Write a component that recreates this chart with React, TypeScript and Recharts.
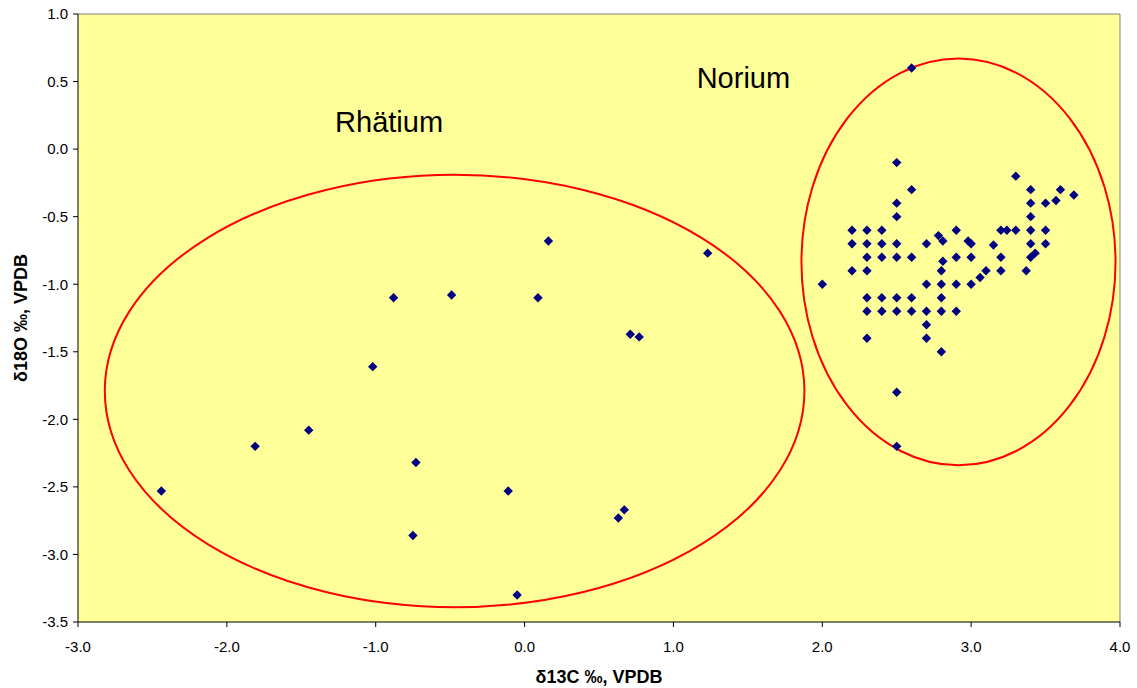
import React from "react";
import {
  ScatterChart,
  Scatter,
  XAxis,
  YAxis,
  CartesianGrid,
  ReferenceArea,
  ReferenceDot,
  ReferenceLine,
  Label,
} from "recharts";

// Rhätium samples (δ13C, δ18O)
const rhaetC = [
  -2.44, -1.81, -1.45, -1.02, -0.88, -0.73, -0.75, -0.49, -0.11, -0.05, 0.09,
  0.16, 0.63, 0.67, 0.71, 0.77, 1.23,
];
const rhaetO = [
  -2.53, -2.2, -2.08, -1.61, -1.1, -2.32, -2.86, -1.08, -2.53, -3.3, -1.1,
  -0.68, -2.73, -2.67, -1.37, -1.39, -0.77,
];

// Norium samples (δ13C, δ18O)
const norC = [
  2.6, 2.5, 3.3, 2.6, 3.4, 3.6, 3.69, 3.57, 2.5, 3.4, 3.5, 2.5, 3.4,
  2.2, 2.3, 2.4, 2.9, 3.2, 3.24, 3.3, 3.4, 3.5,
  2.78, 2.81, 2.98, 3.0,
  2.2, 2.3, 2.4, 2.5, 2.7, 3.4, 3.5, 3.15,
  2.3, 2.4, 2.5, 2.6, 2.9, 3.0, 3.2, 3.4, 3.43, 2.81,
  2.2, 2.3, 2.8, 3.1, 3.2, 3.37, 3.06,
  2.0, 2.7, 2.8, 2.9, 3.0,
  2.3, 2.4, 2.5, 2.6, 2.8,
  2.3, 2.4, 2.5, 2.6, 2.7, 2.8, 2.9,
  2.7, 2.3, 2.7, 2.8, 2.5, 2.5,
];
const norO = [
  0.6, -0.1, -0.2, -0.3, -0.3, -0.3, -0.34, -0.38, -0.4, -0.4, -0.4, -0.5, -0.5,
  -0.6, -0.6, -0.6, -0.6, -0.6, -0.6, -0.6, -0.6, -0.6,
  -0.64, -0.68, -0.68, -0.7,
  -0.7, -0.7, -0.7, -0.7, -0.7, -0.7, -0.7, -0.71,
  -0.8, -0.8, -0.8, -0.8, -0.8, -0.8, -0.8, -0.8, -0.77, -0.83,
  -0.9, -0.9, -0.9, -0.9, -0.9, -0.9, -0.95,
  -1.0, -1.0, -1.0, -1.0, -1.0,
  -1.1, -1.1, -1.1, -1.1, -1.1,
  -1.2, -1.2, -1.2, -1.2, -1.2, -1.2, -1.2,
  -1.3, -1.4, -1.4, -1.5, -1.8, -2.2,
];

const xTicks = [-3, -2, -1, 0, 1, 2, 3, 4];
const yTicks = [1, 0.5, 0, -0.5, -1, -1.5, -2, -2.5, -3, -3.5];

// group outlines as bounding boxes [x1, x2, y1, y2]
const rhaetBox = [-2.82, 1.88, -0.19, -3.39];
const norBox = [1.86, 3.97, 0.67, -2.34];

const rhaetData = rhaetC.map((x, i) => ({ x, y: rhaetO[i] }));
const norData = norC.map((x, i) => ({ x, y: norO[i] }));
const allData = [...rhaetData, ...norData];

const font = "'Liberation Sans', Arial, sans-serif";

const Diamond = (props: any) => {
  const { cx, cy } = props;
  const h = 4.7;
  return (
    <polygon
      points={`${cx},${cy - h} ${cx + h},${cy} ${cx},${cy + h} ${cx - h},${cy}`}
      fill="#000080"
    />
  );
};

const Ellipse = (props: any) => {
  const { x, y, width, height } = props;
  const w = Math.abs(width);
  const ht = Math.abs(height);
  const left = width < 0 ? x + width : x;
  const top = height < 0 ? y + height : y;
  return (
    <ellipse
      cx={left + w / 2}
      cy={top + ht / 2}
      rx={w / 2}
      ry={ht / 2}
      fill="none"
      stroke="#FF0000"
      strokeWidth={2}
    />
  );
};

const groupLabel = (text: string) => (props: any) => (
  <text
    x={props.cx}
    y={props.cy}
    textAnchor="middle"
    fontSize={29}
    fontFamily={font}
    fill="#000"
  >
    {text}
  </text>
);

const App = () => {
  return (
    <div style={{ position: "absolute", left: 0, top: 0 }}>
      <ScatterChart
        width={1137}
        height={688}
        margin={{ top: 14, right: 17, left: 8, bottom: 25 }}
        style={{ fontFamily: font }}
      >
        <CartesianGrid
          horizontal={false}
          vertical={false}
          fill="#FFFF99"
          stroke="none"
        />
        <XAxis
          type="number"
          dataKey="x"
          domain={[-3, 4]}
          ticks={xTicks}
          tickFormatter={(v) => v.toFixed(1)}
          tickSize={5}
          tickMargin={14}
          height={41}
          stroke="#000"
          tick={{ fill: "#000", fontSize: 15 }}
          allowDataOverflow
        >
          <Label
            content={(p: any) => (
              <text
                x={p.viewBox.x + p.viewBox.width / 2}
                y={p.viewBox.y + 61}
                textAnchor="middle"
                fontSize={18}
                fontWeight="bold"
                fontFamily={font}
                fill="#000"
              >
                δ13C ‰, VPDB
              </text>
            )}
          />
        </XAxis>
        <YAxis
          type="number"
          dataKey="y"
          domain={[-3.5, 1]}
          ticks={yTicks}
          tickFormatter={(v) => v.toFixed(1)}
          tickSize={5}
          tickMargin={5}
          width={70}
          stroke="#000"
          tick={{ fill: "#000", fontSize: 15 }}
          allowDataOverflow
        >
          <Label
            content={(p: any) => {
              const cx = p.viewBox.x + 13;
              const cy = p.viewBox.y + p.viewBox.height / 2;
              return (
                <text
                  x={cx}
                  y={cy}
                  transform={`rotate(-90, ${cx}, ${cy})`}
                  textAnchor="middle"
                  dominantBaseline="central"
                  fontSize={18}
                  fontWeight="bold"
                  fontFamily={font}
                  fill="#000"
                >
                  δ18O ‰, VPDB
                </text>
              );
            }}
          />
        </YAxis>
        <ReferenceLine y={1} stroke="#808080" strokeWidth={1} />
        <ReferenceLine x={4} stroke="#808080" strokeWidth={1} />
        <ReferenceArea
          x1={rhaetBox[0]}
          x2={rhaetBox[1]}
          y1={rhaetBox[2]}
          y2={rhaetBox[3]}
          shape={Ellipse}
        />
        <ReferenceArea
          x1={norBox[0]}
          x2={norBox[1]}
          y1={norBox[2]}
          y2={norBox[3]}
          shape={Ellipse}
        />
        <ReferenceDot x={-0.91} y={0.13} shape={groupLabel("Rhätium")} />
        <ReferenceDot x={1.47} y={0.45} shape={groupLabel("Norium")} />
        <Scatter data={allData} shape={Diamond} isAnimationActive={false} />
      </ScatterChart>
    </div>
  );
};

export default App;
